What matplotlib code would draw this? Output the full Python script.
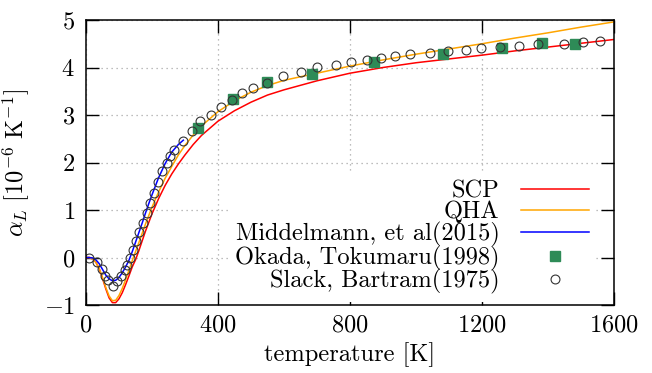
import matplotlib
matplotlib.use("Agg")
import matplotlib.pyplot as plt

plt.rcParams['font.family'] = 'cmr10'
plt.rcParams['mathtext.fontset'] = 'cm'
plt.rcParams['axes.formatter.use_mathtext'] = True
plt.rcParams['axes.unicode_minus'] = True

# ---- data ----
T_calc = [0, 10, 20, 30, 40, 50, 60, 70, 80, 90, 100, 110, 120, 130, 140, 150, 160, 180,
          200, 220, 240, 260, 280, 300, 325, 350, 400, 450, 500, 550, 600, 700, 800, 900,
          1000, 1100, 1200, 1300, 1400, 1500, 1600]
scp = [0, 0, -0.03, -0.1, -0.24, -0.44, -0.66, -0.85, -0.95, -0.95, -0.87, -0.74, -0.57,
       -0.39, -0.2, -0.05, 0.14, 0.55, 0.92, 1.24, 1.52, 1.76, 1.97, 2.16, 2.38, 2.57,
       2.87, 3.09, 3.27, 3.42, 3.53, 3.72, 3.88, 4.00, 4.10, 4.18, 4.26, 4.35, 4.43, 4.51, 4.59]
qha = [0, 0, -0.03, -0.1, -0.23, -0.42, -0.63, -0.81, -0.91, -0.9, -0.8, -0.65, -0.47,
       -0.27, -0.07, 0.12, 0.31, 0.7, 1.06, 1.38, 1.67, 1.92, 2.16, 2.36, 2.58, 2.77,
       3.07, 3.3, 3.48, 3.62, 3.73, 3.88, 4.03, 4.16, 4.28, 4.39, 4.50, 4.62, 4.73, 4.85, 4.96]

T_mid = [0, 10, 20, 30, 40, 50, 60, 70, 80, 90, 100, 110, 120, 130, 140, 150, 160, 170,
         180, 190, 200, 220, 240, 260, 280, 295]
mid = [0, 0, -0.01, -0.05, -0.13, -0.25, -0.37, -0.45, -0.49, -0.48, -0.42, -0.32, -0.2,
       -0.06, 0.12, 0.32, 0.52, 0.72, 0.93, 1.13, 1.32, 1.68, 1.98, 2.22, 2.38, 2.47]

T_okada = [340, 444, 549, 684, 874, 1081, 1262, 1381, 1482]
okada = [2.72, 3.33, 3.69, 3.86, 4.11, 4.28, 4.42, 4.51, 4.49]

T_slack = [10, 32, 48, 58, 68, 82, 95, 107, 117, 124, 133, 141, 152, 162, 173, 184, 195,
           206, 218, 231, 244, 255, 268, 293, 320, 345, 379, 408, 441, 474, 507, 549, 596,
           650, 701, 757, 802, 852, 893, 936, 982, 1042, 1098, 1152, 1196, 1256, 1313,
           1371, 1447, 1505, 1559]
slack = [0.0, -0.1, -0.25, -0.38, -0.47, -0.6, -0.5, -0.38, -0.27, -0.15, 0.0, 0.15, 0.35,
         0.54, 0.73, 0.94, 1.14, 1.36, 1.6, 1.82, 2.0, 2.14, 2.27, 2.46, 2.67, 2.87, 3.01,
         3.17, 3.32, 3.46, 3.56, 3.67, 3.82, 3.90, 4.02, 4.06, 4.12, 4.16, 4.21, 4.24, 4.29,
         4.31, 4.35, 4.37, 4.40, 4.43, 4.46, 4.49, 4.49, 4.54, 4.56]

labels = ['SCP', 'QHA', 'Middelmann, et al(2015)', 'Okada, Tokumaru(1998)',
          'Slack, Bartram(1975)']
xticks = [0, 400, 800, 1200, 1600]
yticks = [-1, 0, 1, 2, 3, 4, 5]

# ---- figure ----
fig = plt.figure(figsize=(6.52, 3.73), dpi=100)
ax = fig.add_axes([86 / 652, 1 - 305 / 373, 528 / 652, 285 / 373])

FS = 17.6
ax.plot(T_calc, scp, color='#ff0000', lw=1.1, label=labels[0])
ax.plot(T_calc, qha, color='#ffa500', lw=1.1, label=labels[1])
ax.plot(T_mid, mid, color='#0000ff', lw=1.1, label=labels[2])
ax.plot(T_okada, okada, 's', color='#2e8b57', ms=6.8, mec='#2e8b57', label=labels[3])
ax.plot(T_slack, slack, 'o', mfc='none', mec='#333333', mew=0.8, ms=6.4, label=labels[4])

ax.set_xlim(0, 1600)
ax.set_ylim(-1, 5)
ax.set_xticks(xticks)
ax.set_yticks(yticks)
ax.grid(True, color='#a8a8a8', linestyle=(0, (1, 3)), linewidth=0.9)
ax.tick_params(direction='in', length=9.5, width=1.0, top=True, right=True,
               labelsize=FS, pad=7)
ax.tick_params(axis='y', pad=8)
for s in ax.spines.values():
    s.set_linewidth(1.1)

ax.set_xlabel('temperature [K]', fontsize=FS, labelpad=4)
ax.set_ylabel(r'$\alpha_L\ [10^{-6}\ \mathrm{K}^{-1}]$', fontsize=FS, labelpad=8)

leg = ax.legend(loc='lower right', bbox_to_anchor=(0.966, 0.012), borderaxespad=0,
                markerfirst=False, numpoints=1, fontsize=FS, frameon=True,
                fancybox=False, framealpha=1, facecolor='white', edgecolor='none',
                handlelength=2.75, handletextpad=0.9, labelspacing=-0.06, borderpad=0.3)

fig.savefig('out.png', dpi=100)
